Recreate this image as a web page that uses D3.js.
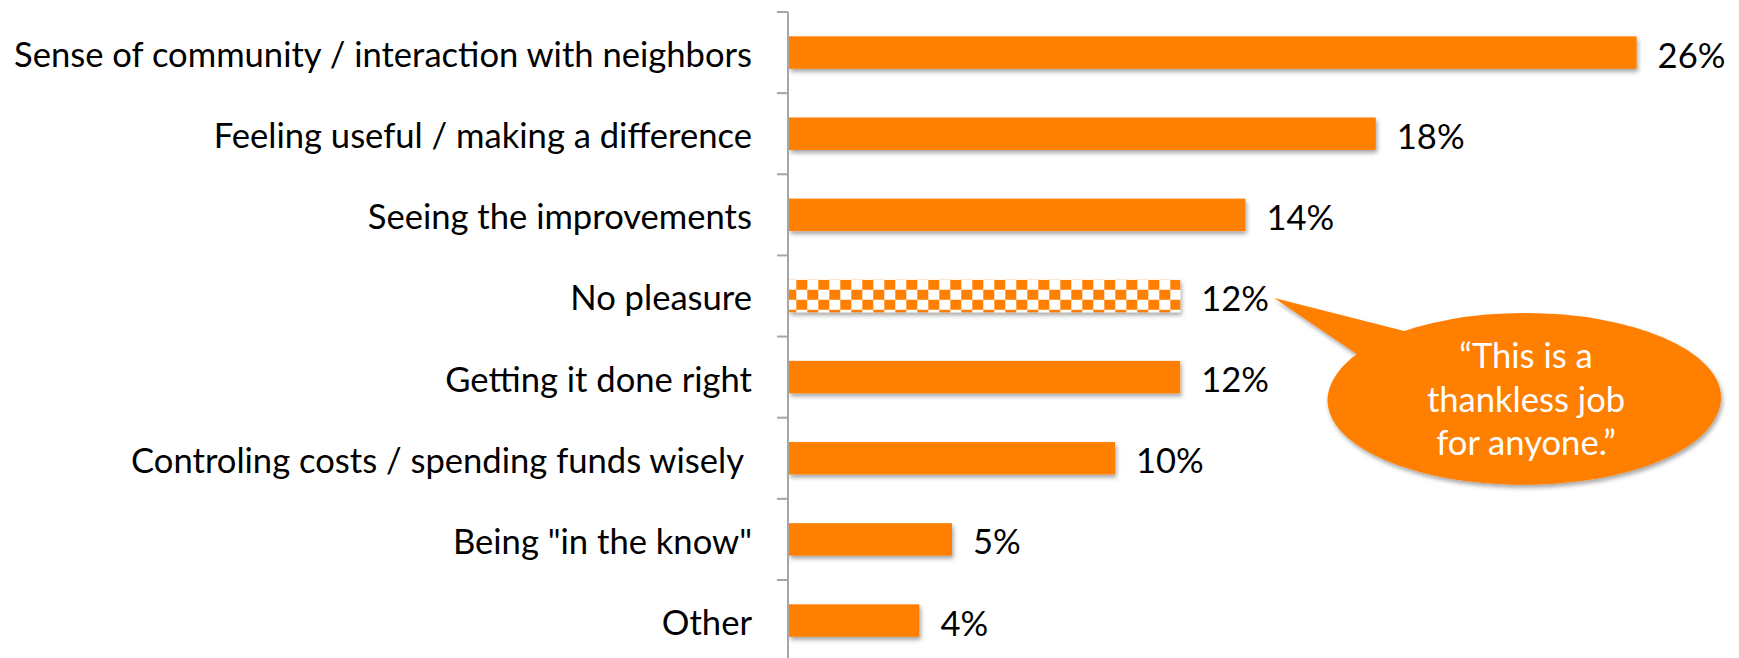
<!DOCTYPE html>
<html>
<head>
<meta charset="utf-8">
<script src="https://cdn.jsdelivr.net/npm/d3@7"></script>
<style>
  html, body { margin: 0; padding: 0; background: #fff; }
  svg { display: block; }
  text { font-family: Lato, "Open Sans", sans-serif; white-space: pre; }
</style>
</head>
<body>
<svg id="chart" width="1739" height="658"></svg>
<script>
// Survey answers: what respondents enjoy about the role
const categories = [
  "Sense of community / interaction with neighbors",
  "Feeling useful / making a difference",
  "Seeing the improvements",
  "No pleasure",
  "Getting it done right",
  "Controling costs / spending funds wisely ",
  "Being \"in the know\"",
  "Other"
];
const values = [26, 18, 14, 12, 12, 10, 5, 4];
const patternedCategories = ["No pleasure"];
const calloutLines = ["\u201CThis is a", "thankless job", "for anyone.\u201D"];

const ORANGE = "#FF7F00";
const AXIS_GRAY = "#A6A6A6";

const W = 1739, H = 658;
const plotLeft = 788, plotTop = 12, step = 81.14;

const svg = d3.select("#chart");

const x = d3.scaleLinear().domain([0, 30]).range([plotLeft + 1, plotLeft + 1 + 978]);
const y = d3.scaleBand()
  .domain(categories)
  .range([plotTop, plotTop + step * categories.length])
  .paddingInner(0.6)
  .paddingOuter(0.3);

const defs = svg.append("defs");

// soft drop shadow under bars and the callout
const f = defs.append("filter").attr("id", "shadow")
  .attr("x", "-10%").attr("y", "-40%").attr("width", "120%").attr("height", "200%");
f.append("feDropShadow")
  .attr("dx", 1.5).attr("dy", 3).attr("stdDeviation", 2.2)
  .attr("flood-color", "#000").attr("flood-opacity", 0.35);

// checkerboard fill for the highlighted answer
const checkerCat = patternedCategories[0];
const pat = defs.append("pattern").attr("id", "checker")
  .attr("patternUnits", "userSpaceOnUse")
  .attr("x", x(0) + 7.3).attr("y", y(checkerCat))
  .attr("width", 22).attr("height", 20);
pat.append("rect").attr("width", 22).attr("height", 20).attr("fill", "#fff");
pat.append("rect").attr("x", 0).attr("y", 0).attr("width", 11).attr("height", 10).attr("fill", ORANGE);
pat.append("rect").attr("x", 11).attr("y", 10).attr("width", 11).attr("height", 10).attr("fill", ORANGE);

// font size fitted so the longest category label spans the label column
const labelRight = 752;
const probe = svg.append("text").attr("font-size", 32).text(categories[0]);
const measured = probe.node().getComputedTextLength();
probe.remove();
const fontSize = 32 * (labelRight - 14) / measured;

// bars
svg.append("g").selectAll("rect")
  .data(categories)
  .join("rect")
  .attr("x", x(0))
  .attr("y", d => y(d))
  .attr("width", (d, i) => x(values[i]) - x(0))
  .attr("height", y.bandwidth())
  .attr("fill", d => patternedCategories.includes(d) ? "url(#checker)" : ORANGE)
  .attr("filter", "url(#shadow)");

// category axis: vertical line plus ticks between categories
const axis = svg.append("g");
const boundaries = d3.range(categories.length + 1).map(i => plotTop + i * y.step());
axis.append("line")
  .attr("x1", plotLeft).attr("x2", plotLeft)
  .attr("y1", plotTop).attr("y2", H + 10)
  .attr("stroke", AXIS_GRAY).attr("stroke-width", 2);
axis.selectAll("line.tick")
  .data(boundaries)
  .join("line")
  .attr("class", "tick")
  .attr("x1", plotLeft - 11).attr("x2", plotLeft)
  .attr("y1", d => d).attr("y2", d => d)
  .attr("stroke", AXIS_GRAY).attr("stroke-width", 2);

// category labels
svg.append("g").selectAll("text")
  .data(categories)
  .join("text")
  .attr("x", labelRight)
  .attr("y", d => y(d) + y.bandwidth() / 2 + 14.5)
  .attr("text-anchor", "end")
  .attr("font-size", fontSize)
  .attr("fill", "#000")
  .text(d => d);

// value labels
const fmt = v => v + "%";
svg.append("g").selectAll("text")
  .data(categories)
  .join("text")
  .attr("x", (d, i) => x(values[i]) + 21)
  .attr("y", d => y(d) + y.bandwidth() / 2 + 15)
  .attr("font-size", fontSize)
  .attr("fill", "#000")
  .text((d, i) => fmt(values[i]));

// speech-bubble callout pointing at the highlighted value
const ci = categories.indexOf(checkerCat);
const tip = [x(values[ci]) + 94, y(checkerCat) + y.bandwidth() / 2 + 2];
const cx = 1525, cy = 397.5, rx = 196, ry = 84.5;
const p1 = [1408, 332], p2 = [1358, 355];
const bubble = svg.append("g").attr("filter", "url(#shadow)");
bubble.append("path")
  .attr("d", `M${tip[0]},${tip[1]} L${p1[0]},${p1[1]} A${rx},${ry} 0 1 1 ${p2[0]},${p2[1]} Z`)
  .attr("fill", ORANGE);
bubble.append("ellipse")
  .attr("cx", cx).attr("cy", cy).attr("rx", rx).attr("ry", ry)
  .attr("fill", ORANGE);

svg.append("g").selectAll("text")
  .data(calloutLines)
  .join("text")
  .attr("x", cx + 1)
  .attr("y", (d, i) => 368 + i * 43.5)
  .attr("text-anchor", "middle")
  .attr("font-size", fontSize)
  .attr("fill", "#fff")
  .text(d => d);
</script>
</body>
</html>
